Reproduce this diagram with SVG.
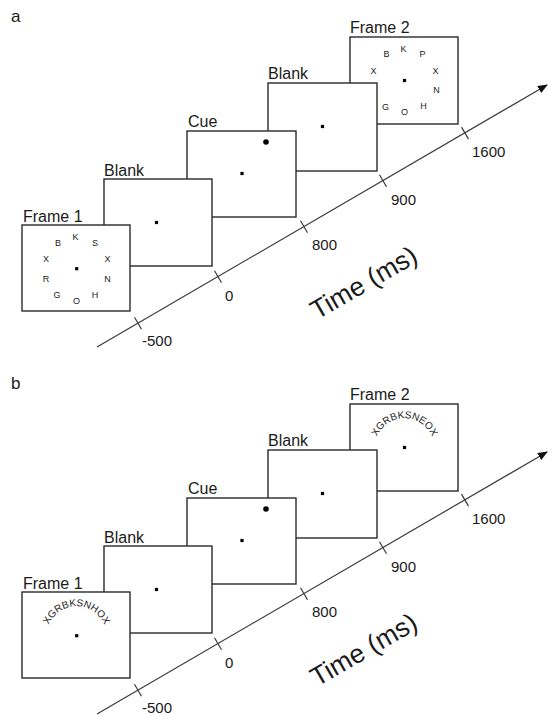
<svg xmlns="http://www.w3.org/2000/svg" width="548" height="715" viewBox="0 0 548 715">
<style>
text{font-family:"Liberation Sans",Arial,sans-serif;fill:#1a1a1a}
.box{fill:#fff;stroke:#2a2a2a;stroke-width:1.4}
.lbl{font-size:16px}
.ltr{font-size:9px;text-anchor:middle}
.arc{font-size:10px}
.num{font-size:15px}
.time{font-size:26.5px}
.panel{font-size:17px}
.axis{stroke:#3a3a3a;stroke-width:1.2;fill:none}
.tick{stroke:#3a3a3a;stroke-width:1.2}
</style>
<defs>
<marker id="arr" markerWidth="10" markerHeight="8" refX="9" refY="4" orient="auto" markerUnits="userSpaceOnUse">
<path d="M0,0 L10,4 L0,8 z" fill="#111"/>
</marker>
<rect id="dot" x="-1.6" y="-1.6" width="3.2" height="3.2" fill="#000"/>
<path id="arcpath" d="M25,38.8 A30,30 0 0,1 84,38.8" fill="none"/>
</defs>

<text class="panel" x="11" y="22">a</text>
<text class="panel" x="11" y="389">b</text>

<!-- Panel a -->
<g id="a-frame2" transform="translate(350,37)">
<text class="lbl" x="0" y="-4">Frame 2</text>
<rect class="box" x="0" y="0" width="108" height="87"/>
<use href="#dot" x="54.5" y="43.5"/>
<text class="ltr" x="36.5" y="20">B</text>
<text class="ltr" x="53.5" y="15">K</text>
<text class="ltr" x="72.5" y="20">P</text>
<text class="ltr" x="23.5" y="37">X</text>
<text class="ltr" x="85.5" y="37">X</text>
<text class="ltr" x="86.5" y="56">N</text>
<text class="ltr" x="35.5" y="73">G</text>
<text class="ltr" x="54.5" y="78">O</text>
<text class="ltr" x="73.5" y="72">H</text>
</g>
<g id="a-blank2" transform="translate(268,83)">
<text class="lbl" x="0" y="-4">Blank</text>
<rect class="box" x="0" y="0" width="109" height="88"/>
<use href="#dot" x="54.5" y="43.5"/>
</g>
<g id="a-cue" transform="translate(187,131)">
<text class="lbl" x="1" y="-4">Cue</text>
<rect class="box" x="0" y="0" width="109" height="86"/>
<use href="#dot" x="55" y="42.5"/>
<circle cx="79" cy="11" r="2.8" fill="#000"/>
</g>
<g id="a-blank1" transform="translate(104,179)">
<text class="lbl" x="0" y="-3">Blank</text>
<rect class="box" x="0" y="0" width="108" height="87"/>
<use href="#dot" x="52.5" y="43.5"/>
</g>
<g id="a-frame1" transform="translate(22,225)">
<text class="lbl" x="1" y="-3">Frame 1</text>
<rect class="box" x="0" y="0" width="108" height="86"/>
<use href="#dot" x="54.7" y="43.7"/>
<text class="ltr" x="53.5" y="15">K</text>
<text class="ltr" x="36" y="21">B</text>
<text class="ltr" x="73" y="21">S</text>
<text class="ltr" x="24" y="36.5">X</text>
<text class="ltr" x="85.5" y="36.5">X</text>
<text class="ltr" x="24" y="56.5">R</text>
<text class="ltr" x="85.5" y="56.5">N</text>
<text class="ltr" x="35" y="72.5">G</text>
<text class="ltr" x="54.5" y="78.5">O</text>
<text class="ltr" x="73" y="72.5">H</text>
</g>

<g id="a-axis">
<line class="axis" x1="97" y1="347" x2="547" y2="85" marker-end="url(#arr)"/>
<line class="tick" x1="134.5" y1="317.2" x2="141.5" y2="329.2"/>
<line class="tick" x1="214.5" y1="270.7" x2="221.5" y2="282.7"/>
<line class="tick" x1="300.5" y1="220.7" x2="307.5" y2="232.7"/>
<line class="tick" x1="379.5" y1="174.7" x2="386.5" y2="186.7"/>
<line class="tick" x1="461.5" y1="127.1" x2="468.5" y2="139.1"/>
<text class="num" x="142" y="346">-500</text>
<text class="num" x="225" y="301">0</text>
<text class="num" x="312" y="250">800</text>
<text class="num" x="391" y="205">900</text>
<text class="num" x="472" y="157">1600</text>
<text class="time" x="317" y="320" transform="rotate(-30 317 320)">Time (ms)</text>
</g>

<!-- Panel b -->
<g id="b-frame2" transform="translate(350,404)">
<text class="lbl" x="0" y="-4">Frame 2</text>
<rect class="box" x="0" y="0" width="108" height="87"/>
<use href="#dot" x="54.5" y="43.5"/>
<text class="arc"><textPath href="#arcpath" startOffset="50%" text-anchor="middle">XGRBKSNEOX</textPath></text>
</g>
<g id="b-blank2" transform="translate(268,450)">
<text class="lbl" x="0" y="-4">Blank</text>
<rect class="box" x="0" y="0" width="109" height="88"/>
<use href="#dot" x="54.5" y="43.5"/>
</g>
<g id="b-cue" transform="translate(187,498)">
<text class="lbl" x="1" y="-4">Cue</text>
<rect class="box" x="0" y="0" width="109" height="86"/>
<use href="#dot" x="55" y="42.5"/>
<circle cx="79" cy="11" r="2.8" fill="#000"/>
</g>
<g id="b-blank1" transform="translate(104,546)">
<text class="lbl" x="0" y="-3">Blank</text>
<rect class="box" x="0" y="0" width="108" height="87"/>
<use href="#dot" x="52.5" y="43.5"/>
</g>
<g id="b-frame1" transform="translate(22,592)">
<text class="lbl" x="1" y="-3">Frame 1</text>
<rect class="box" x="0" y="0" width="108" height="86"/>
<use href="#dot" x="54.7" y="43.7"/>
<text class="arc"><textPath href="#arcpath" startOffset="50%" text-anchor="middle">XGRBKSNHOX</textPath></text>
</g>

<g id="b-axis">
<line class="axis" x1="97" y1="714" x2="547" y2="452" marker-end="url(#arr)"/>
<line class="tick" x1="134.5" y1="684.2" x2="141.5" y2="696.2"/>
<line class="tick" x1="214.5" y1="637.7" x2="221.5" y2="649.7"/>
<line class="tick" x1="300.5" y1="587.7" x2="307.5" y2="599.7"/>
<line class="tick" x1="379.5" y1="541.7" x2="386.5" y2="553.7"/>
<line class="tick" x1="461.5" y1="494.1" x2="468.5" y2="506.1"/>
<text class="num" x="142" y="713">-500</text>
<text class="num" x="225" y="668">0</text>
<text class="num" x="312" y="617">800</text>
<text class="num" x="391" y="572">900</text>
<text class="num" x="472" y="524">1600</text>
<text class="time" x="317" y="687" transform="rotate(-30 317 687)">Time (ms)</text>
</g>
</svg>
